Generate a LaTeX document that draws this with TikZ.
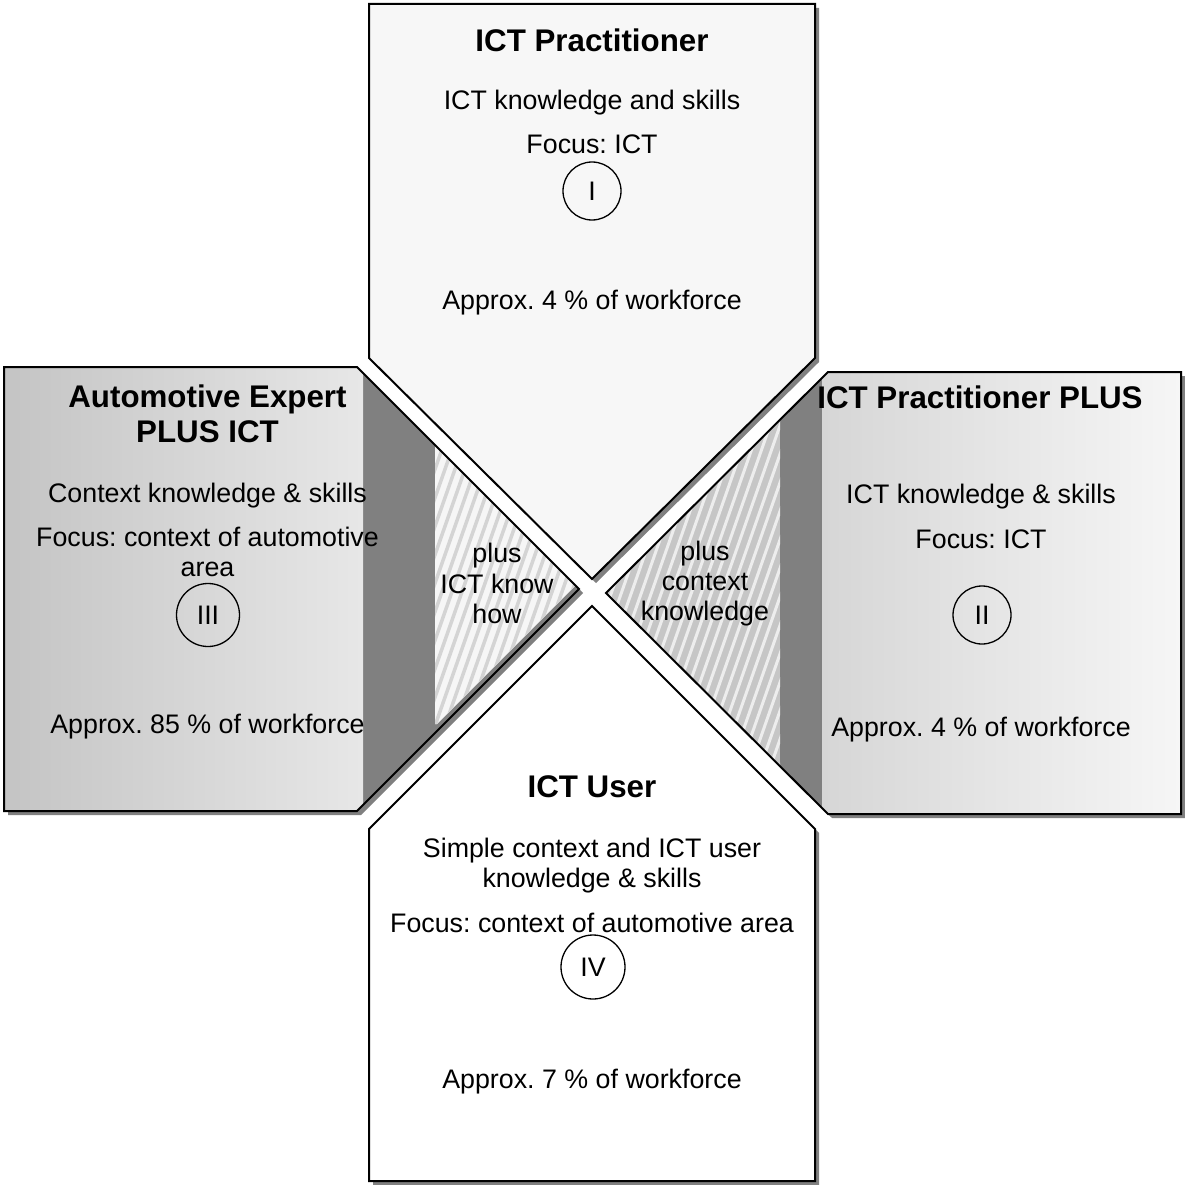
\documentclass[tikz,border=0pt]{standalone}
\usepackage{fontspec}
\setmainfont{Liberation Sans}
\frenchspacing
\definecolor{shadowgray}{HTML}{808080}
\definecolor{bandgray}{HTML}{808080}
\definecolor{topfill}{HTML}{F7F7F7}
\definecolor{leftdark}{HTML}{C4C4C4}
\definecolor{leftlight}{HTML}{E7E7E7}
\definecolor{rightdark}{HTML}{D6D6D6}
\definecolor{rightlight}{HTML}{F6F6F6}
\definecolor{hatchLbg}{HTML}{F6F6F6}
\definecolor{hatchLline}{HTML}{D4D4D4}
\definecolor{hatchRbg}{HTML}{C6C6C6}
\definecolor{hatchRline}{HTML}{EDEDED}
% outlines of the four panels (y grows downwards)
\def\Tpath{(369,4) -- (815,4) -- (815,358) -- (592,579) -- (369,358) -- cycle}
\def\Bpath{(369,1181) -- (369,829) -- (592,606) -- (815,829) -- (815,1181) -- cycle}
\def\Lpath{(4,367) -- (357,367) -- (579,589) -- (357,811) -- (4,811) -- cycle}
\def\Rpath{(1181,372) -- (828,372) -- (606,593) -- (828,814) -- (1181,814) -- cycle}
\begin{document}
\begin{tikzpicture}[x=1pt,y=-1pt,
  panel/.style={draw=black, line width=2pt},
  dropshadow/.style={fill=shadowgray, shift={(4,4)}},
  body/.style={font=\fontsize{26.8}{30}\selectfont, inner sep=0pt, anchor=base},
  headline/.style={font=\fontsize{31.3}{35}\selectfont\bfseries, inner sep=0pt, anchor=base},
  numeral/.style={draw, circle, line width=1.3pt, inner sep=0pt,
    font=\fontsize{26.8}{30}\selectfont},
]
\useasboundingbox (0,0) rectangle (1184,1185);

% drop shadows
\fill[dropshadow] \Lpath;
\fill[dropshadow] \Rpath;
\fill[dropshadow] \Tpath;
\fill[dropshadow] \Bpath;

% left panel: gradient face, dark side band, hatched wedge
\begin{scope}
  \clip \Lpath;
  \fill[bandgray] (0,360) rectangle (600,820);
  \shade[left color=leftdark, right color=leftlight] (4,360) rectangle (363,820);
  \begin{scope}
    \clip (435,445) -- (575.5,585.5) -- (437,724) -- (435,724) -- cycle;
    \fill[hatchLbg] (430,440) rectangle (600,730);
    \foreach \k in {0,...,32}
      \draw[hatchLline, line width=3.5pt] ({300+10*\k},740) -- ++(107,-305);
  \end{scope}
\end{scope}
\draw[panel] \Lpath;

% right panel: hatched wedge, dark side band, gradient face
\begin{scope}
  \clip \Rpath;
  \fill[bandgray] (600,365) rectangle (1185,820);
  \shade[left color=rightdark, right color=rightlight] (822,365) rectangle (1181,820);
  \begin{scope}
    \clip (600,360) rectangle (780,825);
    \fill[hatchRbg] (600,360) rectangle (780,825);
    \foreach \k in {0,...,40}
      \draw[hatchRline, line width=3pt] ({420+10*\k},825) -- ++(163,-465);
  \end{scope}
\end{scope}
\draw[panel] \Rpath;

% top and bottom panels
\filldraw[panel, fill=topfill] \Tpath;
\filldraw[panel, fill=white] \Bpath;

% I: ICT Practitioner
\node[headline] (tTitle) at (592,52) {ICT Practitioner};
\node[body] (tSkills) at (592,110) {ICT knowledge and skills};
\node[body] (tFocus) at (592,154) {Focus: ICT};
\node[numeral, minimum size=58pt] (tNum) at (592,191) {I};
\node[body] (tShare) at (592,309) {Approx. 4 \% of workforce};

% III: Automotive Expert PLUS ICT
\node[headline] (lTitleA) at (207.5,407) {Automotive Expert};
\node[headline] (lTitleB) at (207.5,442) {PLUS ICT};
\node[body] (lSkills) at (207.5,502) {Context knowledge \& skills};
\node[body] (lFocusA) at (207.5,546) {Focus: context of automotive};
\node[body] (lFocusB) at (207.5,576) {area};
\node[numeral, minimum size=63pt] (lNum) at (208,615) {III};
\node[body] (lShare) at (207.5,733) {Approx. 85 \% of workforce};

% II: ICT Practitioner PLUS
\node[headline] (rTitle) at (980,408) {ICT Practitioner PLUS};
\node[body] (rSkills) at (981,503) {ICT knowledge \& skills};
\node[body] (rFocus) at (981,548) {Focus: ICT};
\node[numeral, minimum size=58pt] (rNum) at (982,615) {II};
\node[body] (rShare) at (981,736) {Approx. 4 \% of workforce};

% IV: ICT User
\node[headline] (bTitle) at (592,797) {ICT User};
\node[body] (bSkillsA) at (592,857) {Simple context and ICT user};
\node[body] (bSkillsB) at (592,887) {knowledge \& skills};
\node[body] (bFocus) at (592,932) {Focus: context of automotive area};
\node[numeral, minimum size=64pt] (bNum) at (593,967) {IV};
\node[body] (bShare) at (592,1088) {Approx. 7 \% of workforce};

% wedge labels
\node[body] (wlA) at (497,562) {plus};
\node[body] (wlB) at (497,593) {ICT know};
\node[body] (wlC) at (497,623) {how};
\node[body] (wrA) at (705,560) {plus};
\node[body] (wrB) at (705,590) {context};
\node[body] (wrC) at (705,620) {knowledge};
\end{tikzpicture}
\end{document}
